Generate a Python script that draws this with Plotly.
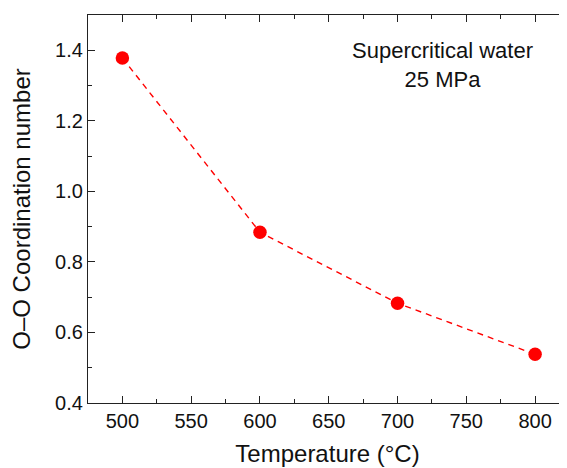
import plotly.graph_objects as go

temperature = [500, 600, 700, 800]
coordination = [1.378, 0.884, 0.683, 0.538]
x_ticks = [500, 550, 600, 650, 700, 750, 800]
y_ticks = [0.4, 0.6, 0.8, 1.0, 1.2, 1.4]
label_lines = ["Supercritical water", "25 MPa"]

FONT = "Arial"
AXC = "#222222"

fig = go.Figure()
fig.add_trace(go.Scatter(
    x=temperature, y=coordination, mode="lines+markers",
    line=dict(color="#ff0000", width=1.4, dash="6px,5px"),
    marker=dict(color="#ff0000", size=13.5),
    showlegend=False, hoverinfo="skip"))
# invisible twin trace for the mirrored (top/right) tick axes
fig.add_trace(go.Scatter(
    x=temperature, y=coordination, mode="markers", xaxis="x2", yaxis="y2",
    marker=dict(opacity=0), showlegend=False, hoverinfo="skip"))

tickfont = dict(family=FONT, size=20, color="#111111")
common_x = dict(range=[475, 823.2], tickmode="array", tickvals=x_ticks,
                ticks="inside", ticklen=7, tickwidth=1, tickcolor=AXC,
                minor=dict(dtick=25, tick0=475, ticks="inside", ticklen=4, tickcolor=AXC),
                showgrid=False, zeroline=False, linecolor=AXC, linewidth=1.2,
                automargin=False)
common_y = dict(range=[0.4, 1.5], tickmode="array", tickvals=y_ticks,
                ticks="inside", ticklen=7, tickwidth=1, tickcolor=AXC,
                minor=dict(dtick=0.1, tick0=0.4, ticks="inside", ticklen=4, tickcolor=AXC),
                showgrid=False, zeroline=False, linecolor=AXC, linewidth=1.2,
                automargin=False)

# the page body adds an 8px offset, so the figure is sized to fill the rest of the window
fig.update_layout(
    template="none",
    width=559, height=460,
    margin=dict(l=80, r=0, t=7, b=65, autoexpand=False),
    paper_bgcolor="white", plot_bgcolor="white",
    font=dict(family=FONT, color="#111111"),
    xaxis=dict(**common_x, showline=True, tickfont=tickfont,
               ticktext=[str(v) for v in x_ticks],
               title=dict(text="Temperature (°C)", font=dict(family=FONT, size=24), standoff=14)),
    yaxis=dict(**common_y, showline=True, tickfont=tickfont,
               ticktext=[f"{v:.1f}" for v in y_ticks],
               title=dict(text="O–O Coordination number", font=dict(family=FONT, size=24), standoff=17)),
    xaxis2=dict(**common_x, overlaying="x", side="top", matches="x",
                showline=True, showticklabels=False),
    yaxis2=dict(**common_y, overlaying="y", side="right", matches="y",
                showline=False, showticklabels=False),
    annotations=[dict(text="<br>".join(label_lines), xref="paper", yref="paper",
                      x=0.741, y=0.871, xanchor="center", yanchor="middle",
                      showarrow=False, align="center",
                      font=dict(family=FONT, size=22, color="#111111"))],
)

fig.write_html("out.html")
